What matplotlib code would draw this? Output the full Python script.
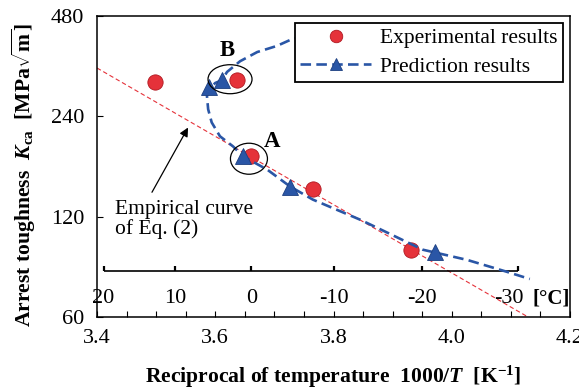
import numpy as np
import matplotlib
matplotlib.use("Agg")
import matplotlib.pyplot as plt
from matplotlib.lines import Line2D
from matplotlib.patches import Ellipse
from matplotlib.transforms import offset_copy

plt.rcParams["font.family"] = ["Liberation Serif", "DejaVu Serif"]
plt.rcParams["mathtext.fontset"] = "custom"
plt.rcParams["mathtext.rm"] = "Liberation Serif:bold"
plt.rcParams["mathtext.it"] = "Liberation Serif:italic:bold"
plt.rcParams["mathtext.bf"] = "Liberation Serif:bold"

# experimental results (1000/T, Kca)
exp_x = [3.498, 3.637, 3.660, 3.765, 3.931]
exp_k = [304, 308, 182, 145, 95.5]

# prediction results
pred_x = [3.589, 3.611, 3.647, 3.726, 3.972]
pred_k = [293, 308, 182, 147, 94]

# predicted curve
curve_x = [3.777, 3.726, 3.704, 3.671, 3.642, 3.620, 3.611, 3.600, 3.589,
           3.586, 3.588, 3.594, 3.608, 3.630, 3.647, 3.688, 3.726, 3.765,
           3.845, 3.879, 3.951, 4.026, 4.093, 4.132]
curve_k = [432, 406, 390, 374, 351, 326, 308, 302, 289,
           276, 252, 230, 209, 195, 182, 166, 148, 135,
           117.5, 110, 95.5, 89, 82, 78]

# empirical curve of Eq. (2), straight on log scale
emp_x = [3.4, 4.129]
emp_k = [335, 60]

celsius = [20, 10, 0, -10, -20, -30]
yticks = [60, 120, 240, 480]

red = "#e5323a"
blue = "#2a56a6"

fig = plt.figure(figsize=(5.79, 3.90), dpi=100)
ax = fig.add_axes([0.1675, 0.1872, 0.817, 0.772])

ax.plot(emp_x, emp_k, color=red, lw=0.8, dashes=(4, 2.5), zorder=1)
ax.plot(exp_x, exp_k, "o", ms=11, color=red, mec="#b01820", mew=0.6, zorder=3)
ax.plot(curve_x, curve_k, color=blue, lw=1.9, dashes=(4, 2), zorder=4)
ax.plot(pred_x, pred_k, "^", ms=11, color=blue, mec="#1c3f80", mew=0.6, zorder=5)

ax.set_xlim(3.4, 4.2)
ax.set_yscale("log")
ax.set_ylim(60, 480)
ax.set_yticks(yticks, labels=[str(v) for v in yticks])
ax.yaxis.set_minor_locator(matplotlib.ticker.NullLocator())
ax.set_xticks(np.arange(3.4, 4.21, 0.2), labels=["3.4", "3.6", "3.8", "4.0", "4.2"])
ax.set_xticks(np.arange(3.45, 4.2, 0.05), minor=True)
ax.tick_params(axis="both", which="both", direction="in", labelsize=16,
               length=4, width=0.8)
ax.tick_params(axis="x", which="both", pad=9)
ax.tick_params(axis="y", pad=9)
for s in ax.spines.values():
    s.set_linewidth(1.1)

ax.set_xlabel(r"Reciprocal of temperature  $1000/T$  [K$^{-1}$]",
              fontsize=15.6, fontweight="bold")
ax.xaxis.set_label_coords(0.5, -0.155)
ax.set_ylabel(r"Arrest toughness  $K_{\mathrm{ca}}$  [MPa$\sqrt{\mathrm{m}}$]",
              fontsize=15.6, fontweight="bold")
ax.yaxis.set_label_coords(-0.125, 0.47)

# inner Celsius scale
cx = [1000.0 / (c + 273.15) for c in celsius]
tr = ax.get_xaxis_transform()
ax.plot([cx[0], cx[-1]], [0.153, 0.153], color="k", lw=1.2, transform=tr,
        solid_capstyle="butt")
ax.vlines(cx, 0.153, 0.168, color="k", lw=1.6, transform=tr)
for i, (c, x) in enumerate(zip(celsius, cx)):
    t = tr if i < len(celsius) - 1 else offset_copy(tr, fig, x=-6.5, units="points")
    ax.text(x, 0.063, str(c), transform=t, ha="center", va="center", fontsize=16)
ax.text(4.137, 0.063, "[°C]", transform=tr, ha="left", va="center",
        fontsize=15, fontweight="bold")

# labels A, B and ellipses
ax.text(3.620, 378, "B", fontsize=16.5, fontweight="bold", ha="center", va="center")
ax.text(3.696, 202, "A", fontsize=16.5, fontweight="bold", ha="center", va="center")
to_axes = ax.transScale + ax.transLimits
for (ex, ek, w, h) in [(3.625, 310, 44, 29), (3.657, 179, 37, 31)]:
    fx, fy = to_axes.transform((ex, ek))
    ax.add_patch(Ellipse((fx, fy), w / 473.0, h / 301.0, transform=ax.transAxes,
                         fill=False, ec="k", lw=0.9, zorder=6))

# annotation for the empirical curve
ax.text(3.430, 135, "Empirical curve\nof Eq. (2)", fontsize=15.5, ha="left",
        va="top", linespacing=1.05)
ax.annotate("", xy=(3.554, 222), xytext=(3.493, 142),
            arrowprops=dict(arrowstyle="-|>", color="k", lw=0.9,
                            mutation_scale=13, shrinkA=0, shrinkB=0))

handles = [
    Line2D([], [], ls="none", marker="o", ms=9, color=red, mec="#b01820", mew=0.6),
    Line2D([], [], color=blue, lw=1.9, dashes=(4, 2), marker="^", ms=9,
           mec="#1c3f80", mew=0.6),
]
leg = ax.legend(handles, ["Experimental results", "Prediction results"],
                loc="upper right", bbox_to_anchor=(0.985, 0.977), fontsize=15.5,
                frameon=True, fancybox=False, framealpha=1, edgecolor="k",
                handlelength=3.3, handletextpad=0.4, borderpad=0.25,
                labelspacing=0.4, borderaxespad=0)
leg.get_frame().set_linewidth(1.3)

fig.savefig("out.png", dpi=100)
